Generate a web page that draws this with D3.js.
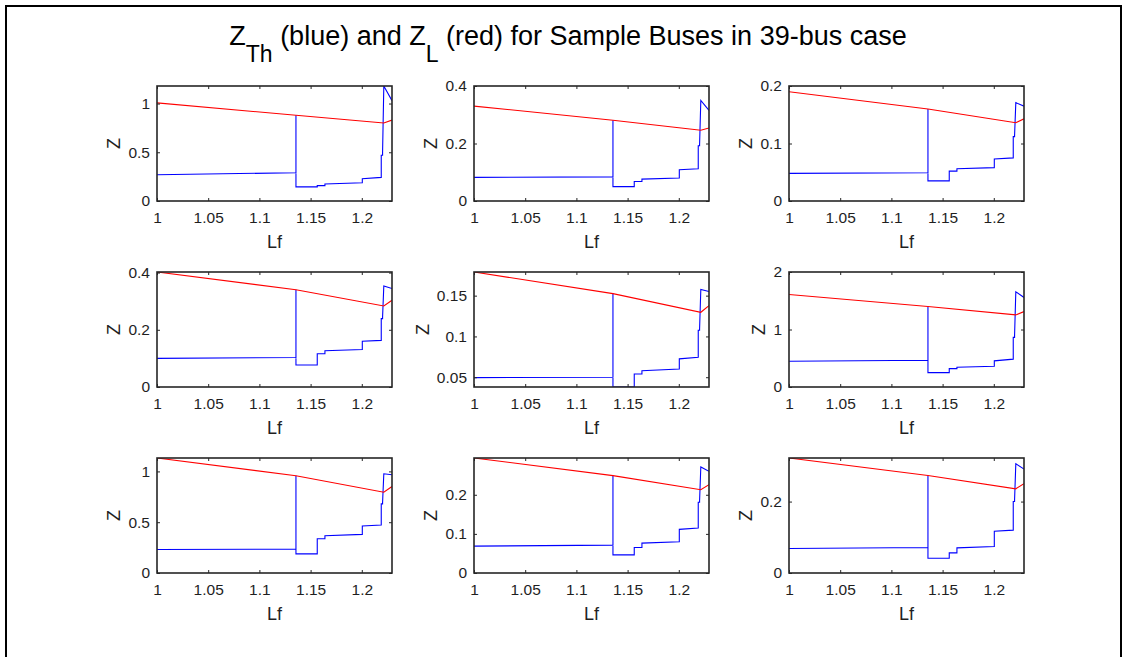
<!DOCTYPE html>
<html>
<head>
<meta charset="utf-8">
<script src="https://cdn.jsdelivr.net/npm/d3@7"></script>
<style>
  body { margin: 0; background: #fff; }
  svg { display: block; }
  text { font-family: "Liberation Sans", Arial, Helvetica, sans-serif; fill: #1f1f1f; }
</style>
</head>
<body>
<div id="chart"></div>
<script>
// load factor samples (shared by all buses)
var lfBlue = [1, 1.1357, 1.1357, 1.1357, 1.1565, 1.1565, 1.164, 1.164, 1.2005, 1.2005, 1.219, 1.219, 1.2203, 1.2203, 1.2215, 1.2295];
var lfRed = [1, 1.1357, 1.2215, 1.2295];
var lfDomain = [1, 1.2295];
var lfTicks = [1, 1.05, 1.1, 1.15, 1.2];

// Thevenin impedance (blue), one array per sample bus
var zth1 = [0.27, 0.29, 0.88, 0.145, 0.145, 0.158, 0.158, 0.175, 0.187, 0.228, 0.242, 0.47, 0.47, 0.50, 1.18, 1.03];
var zth2 = [0.082, 0.084, 0.281, 0.050, 0.050, 0.068, 0.068, 0.076, 0.080, 0.109, 0.112, 0.192, 0.192, 0.196, 0.35, 0.315];
var zth3 = [0.048, 0.049, 0.160, 0.035, 0.035, 0.052, 0.052, 0.056, 0.058, 0.073, 0.075, 0.112, 0.112, 0.114, 0.171, 0.165];
var zth4 = [0.100, 0.103, 0.340, 0.077, 0.077, 0.116, 0.116, 0.127, 0.131, 0.160, 0.163, 0.239, 0.239, 0.245, 0.353, 0.344];
var zth5 = [0.0495, 0.050, 0.1525, 0.038, 0.038, 0.054, 0.054, 0.058, 0.060, 0.0725, 0.0745, 0.1075, 0.1075, 0.109, 0.1575, 0.155];
var zth6 = [0.449, 0.466, 1.40, 0.25, 0.25, 0.32, 0.32, 0.344, 0.36, 0.455, 0.484, 0.863, 0.863, 0.90, 1.656, 1.557];
var zth7 = [0.231, 0.234, 0.957, 0.188, 0.188, 0.337, 0.337, 0.366, 0.38, 0.462, 0.472, 0.68, 0.68, 0.693, 0.977, 0.967];
var zth8 = [0.0687, 0.0712, 0.249, 0.0464, 0.0464, 0.0652, 0.0652, 0.0764, 0.0798, 0.1116, 0.115, 0.181, 0.181, 0.1845, 0.271, 0.26];
var zth9 = [0.0685, 0.0714, 0.273, 0.0413, 0.0413, 0.0563, 0.0563, 0.0704, 0.074, 0.117, 0.12, 0.2, 0.2, 0.205, 0.306, 0.291];

// load impedance (red)
var zl1 = [1.007, 0.88, 0.80, 0.83];
var zl2 = [0.330, 0.281, 0.246, 0.254];
var zl3 = [0.190, 0.160, 0.136, 0.143];
var zl4 = [0.402, 0.340, 0.283, 0.303];
var zl5 = [0.179, 0.1525, 0.1296, 0.1378];
var zl6 = [1.609, 1.40, 1.254, 1.312];
var zl7 = [1.132, 0.957, 0.795, 0.851];
var zl8 = [0.294, 0.249, 0.213, 0.2257];
var zl9 = [0.322, 0.273, 0.2357, 0.25];

// y limits and ticks per panel
var yLims = [[0, 1.18], [0, 0.4], [0, 0.2], [0, 0.402], [0.038, 0.179], [0, 2], [0, 1.132], [0, 0.294], [0, 0.322]];
var yTicks = [[0, 0.5, 1], [0, 0.2, 0.4], [0, 0.1, 0.2], [0, 0.2, 0.4], [0.05, 0.1, 0.15], [0, 1, 2], [0, 0.5, 1], [0, 0.1, 0.2], [0, 0.2]];

var zthAll = [zth1, zth2, zth3, zth4, zth5, zth6, zth7, zth8, zth9];
var zlAll = [zl1, zl2, zl3, zl4, zl5, zl6, zl7, zl8, zl9];

var width = 1124, height = 657;
var colLeft = [157, 474, 789];
var rowTop = [86, 272, 458];
var pw = 235, ph = 115;
var tickFont = 15.5, labelFont = 18;

var svg = d3.select("#chart").append("svg")
  .attr("width", width)
  .attr("height", height);

// figure frame
svg.append("path")
  .attr("d", "M6,657 L6,6 L1121,6 L1121,657")
  .attr("fill", "none")
  .attr("stroke", "#000")
  .attr("stroke-width", 2);

// title
var title = svg.append("text")
  .attr("x", 568)
  .attr("y", 45)
  .attr("text-anchor", "middle")
  .style("font-size", "27px")
  .style("fill", "#000");
title.append("tspan").text("Z");
title.append("tspan").attr("dy", 17).style("font-size", "23px").text("Th");
title.append("tspan").attr("dy", -17).text(" (blue) and Z");
title.append("tspan").attr("dy", 17).style("font-size", "23px").text("L");
title.append("tspan").attr("dy", -17).text(" (red) for Sample Buses in 39-bus case");

function draw(i) {
  var col = i % 3, row = Math.floor(i / 3);
  var g = svg.append("g")
    .attr("transform", `translate(${colLeft[col]}, ${rowTop[row]})`);

  var xScale = d3.scaleLinear().domain(lfDomain).range([0, pw]);
  var yScale = d3.scaleLinear().domain(yLims[i]).range([ph, 0]);

  g.append("clipPath").attr("id", "clip" + i)
    .append("rect").attr("width", pw).attr("height", ph);

  var blue = lfBlue.map((x, k) => [x, zthAll[i][k]]);
  var red = lfRed.map((x, k) => [x, zlAll[i][k]]);
  var line = d3.line().x(d => xScale(d[0])).y(d => yScale(d[1]));

  var plot = g.append("g").attr("clip-path", `url(#clip${i})`);
  plot.append("path").datum(blue)
    .attr("d", line).attr("fill", "none")
    .attr("stroke", "#0000ff").attr("stroke-width", 1.1);
  plot.append("path").datum(red)
    .attr("d", line).attr("fill", "none")
    .attr("stroke", "#ff0000").attr("stroke-width", 1.1);

  // axes, ticks inward like matlab
  var fmt = d => String(d);
  g.append("g").attr("transform", `translate(0, ${ph})`)
    .call(d3.axisBottom(xScale).tickValues(lfTicks).tickSize(-3).tickPadding(11).tickFormat(fmt));
  g.append("g")
    .call(d3.axisTop(xScale).tickValues(lfTicks).tickSize(-3).tickFormat(""));
  var yAxis = g.append("g")
    .call(d3.axisLeft(yScale).tickValues(yTicks[i]).tickSize(-3).tickPadding(7).tickFormat(fmt));
  g.append("g").attr("transform", `translate(${pw}, 0)`)
    .call(d3.axisRight(yScale).tickValues(yTicks[i]).tickSize(-3).tickFormat(""));

  g.selectAll(".domain").remove();
  g.selectAll(".tick line").attr("stroke", "#262626");
  g.selectAll(".tick text")
    .style("font-size", tickFont + "px")
    .style("font-family", '"Liberation Sans", Arial, sans-serif')
    .attr("fill", "#1f1f1f");

  g.append("rect")
    .attr("width", pw).attr("height", ph)
    .attr("fill", "none")
    .attr("stroke", "#262626")
    .attr("stroke-width", 1.6);

  // labels
  g.append("text")
    .attr("x", pw / 2)
    .attr("y", ph + 47)
    .attr("text-anchor", "middle")
    .style("font-size", labelFont + "px")
    .text("Lf");

  var maxW = 0;
  yAxis.selectAll(".tick text").each(function () {
    maxW = Math.max(maxW, this.getComputedTextLength());
  });
  g.append("text")
    .attr("transform", `translate(${-7 - maxW - 8}, ${ph / 2}) rotate(-90)`)
    .attr("text-anchor", "middle")
    .style("font-size", labelFont + "px")
    .text("Z");
}

for (var i = 0; i < 9; i++) draw(i);
</script>
</body>
</html>
